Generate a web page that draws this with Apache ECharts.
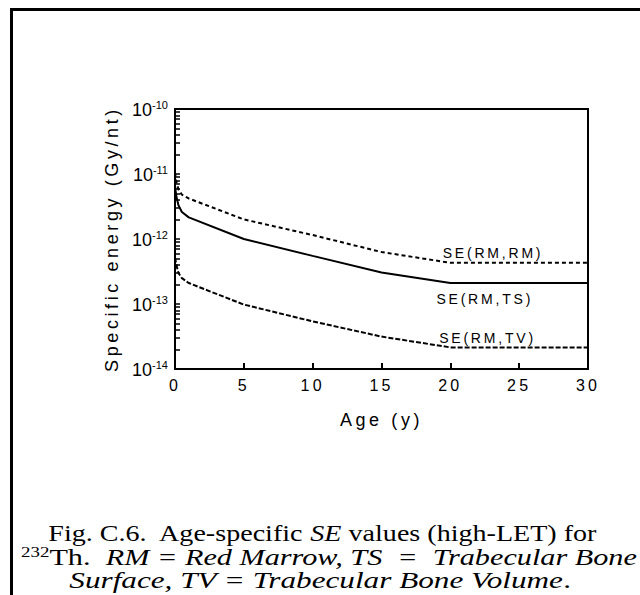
<!DOCTYPE html>
<html>
<head>
<meta charset="utf-8">
<script src="https://cdn.jsdelivr.net/npm/echarts@6/dist/echarts.min.js"></script>
<style>
html,body{margin:0;padding:0;background:#fff;}
#chart{width:640px;height:595px;}
#chart text{letter-spacing:0.2em;}
#chart text[style*="Serif"], #chart text[font-family*="Serif"],
#chart text[style*="Arial"], #chart text[font-family*="Arial"]{letter-spacing:0;}
</style>
</head>
<body>
<div id="chart"></div>
<script>
// ---- data ----
const ages   = [0, 0.1, 0.25, 0.5, 1, 5, 10, 15, 20, 30];
const seRMRM = [1.05e-11, 7.5e-12, 5.8e-12, 4.8e-12, 4.2e-12, 2.0e-12, 1.15e-12, 6.3e-13, 4.3e-13, 4.3e-13];
const seRMTS = [6.5e-12, 4.5e-12, 3.3e-12, 2.6e-12, 2.15e-12, 1.0e-12, 5.5e-13, 3.05e-13, 2.1e-13, 2.1e-13];
const seRMTV = [5.2e-13, 4.0e-13, 3.0e-13, 2.5e-13, 2.1e-13, 9.8e-14, 5.4e-14, 3.15e-14, 2.15e-14, 2.15e-14];
const seriesNames = ['SE(RM,RM)', 'SE(RM,TS)', 'SE(RM,TV)'];
const xTicks = [0, 5, 10, 15, 20, 25, 30];
const yExponents = [-14, -13, -12, -11, -10];
const captionLines = [
  '{n|Fig. C.6.  Age-specific }{i|SE}{n| values (high-LET) for}',
  '{sup|232}{n|Th.  }{i|RM = Red Marrow, TS  =  Trabecular Bone}',
  '{i|Surface, TV = Trabecular Bone Volume}{n|.}'
];

const SANS = 'Liberation Sans';
const SANS_TIGHT = 'Arial';
const SERIF = 'Liberation Serif';

const yMajor = yExponents.map(e => Math.pow(10, e));
const yMinor = [];
yExponents.forEach((e, i) => {
  if (i === yExponents.length - 1) { yMinor.push(Math.pow(10, e)); return; }
  for (let m = 1; m <= 9; m++) yMinor.push(m * Math.pow(10, e));
});

function pairs(ys) { return ages.map((a, i) => [a, ys[i]]); }

const chart = echarts.init(document.getElementById('chart'), null, {renderer: 'svg'});

function lbl(text, coord) {
  return {
    coord: coord,
    symbolSize: 0,
    label: {show: true, position: 'inside', formatter: text, color: '#000',
            fontFamily: SANS, fontSize: 14}
  };
}

const capRich = {
  n: {fontFamily: SERIF, fontSize: 24, fill: '#000', color: '#000', lineHeight: 24},
  i: {fontFamily: SERIF, fontSize: 24, fontStyle: 'italic', fill: '#000', color: '#000', lineHeight: 24},
  sup: {fontFamily: SERIF, fontSize: 15, fill: '#000', color: '#000', lineHeight: 24, verticalAlign: 'top', padding: [0, 0, 8, 0]}
};
const capLayout = [
  {x: 322, y: 533, sx: 1.17},
  {x: 329, y: 557, sx: 1.26},
  {x: 320, y: 580, sx: 1.30}
];

const option = {
  animation: false,
  backgroundColor: '#fff',
  graphic: [
    {type: 'line', shape: {x1: 10, y1: 9.5, x2: 640, y2: 9.5}, style: {stroke: '#000', lineWidth: 3}},
    {type: 'line', shape: {x1: 11.5, y1: 8, x2: 11.5, y2: 595}, style: {stroke: '#000', lineWidth: 3}}
  ].concat(captionLines.map((t, k) => ({
    type: 'text', x: capLayout[k].x, y: capLayout[k].y, scaleX: capLayout[k].sx,
    style: {text: t, rich: capRich, fill: '#000', fontFamily: SERIF, fontSize: 24,
            textAlign: 'center', align: 'center', textVerticalAlign: 'middle', verticalAlign: 'middle'}
  }))),
  grid: {left: 175, top: 109, width: 413, height: 260, show: true, borderColor: '#000', borderWidth: 2},
  xAxis: {
    type: 'value', min: 0, max: 30, interval: 5,
    name: 'Age (y)', nameLocation: 'middle', nameGap: 42,
    nameTextStyle: {fontFamily: SANS, fontSize: 18, color: '#000'},
    axisLine: {show: true, lineStyle: {color: '#000', width: 2}},
    axisTick: {show: true, inside: true, length: 6, lineStyle: {color: '#000', width: 2}},
    axisLabel: {show: true, margin: 8, fontFamily: SANS, fontSize: 16, color: '#000',
                customValues: xTicks},
    splitLine: {show: false}
  },
  yAxis: {
    type: 'log', logBase: 10, min: 1e-14, max: 1e-10,
    name: 'Specific energy (Gy/nt)', nameLocation: 'middle', nameGap: 53, nameRotate: 90,
    nameTextStyle: {fontFamily: SANS, fontSize: 18, color: '#000'},
    axisLine: {show: true, onZero: false, lineStyle: {color: '#000', width: 2}},
    axisTick: {show: true, inside: true, length: 5, lineStyle: {color: '#000', width: 1.5},
               customValues: yMinor},
    axisLabel: {
      show: true, margin: 7, customValues: yMajor,
      formatter: v => '{b|10}{s|' + Math.round(Math.log10(v)) + '}',
      rich: {
        b: {fontFamily: SANS_TIGHT, fontSize: 18, color: '#000', lineHeight: 20, verticalAlign: 'bottom'},
        s: {fontFamily: SANS_TIGHT, fontSize: 11, color: '#000', lineHeight: 20, verticalAlign: 'top'}
      }
    },
    splitLine: {show: false}
  },
  series: [
    {
      name: seriesNames[0], type: 'line', data: pairs(seRMRM), showSymbol: false, symbol: 'none',
      lineStyle: {color: '#000', width: 2, type: [4, 3]},
      markPoint: {symbol: 'circle', symbolSize: 0, data: [lbl(seriesNames[0], [23.1, 6.15e-13])]}
    },
    {
      name: seriesNames[1], type: 'line', data: pairs(seRMTS), showSymbol: false, symbol: 'none',
      lineStyle: {color: '#000', width: 2, type: 'solid'},
      markPoint: {symbol: 'circle', symbolSize: 0, data: [lbl(seriesNames[1], [22.5, 1.19e-13])]}
    },
    {
      name: seriesNames[2], type: 'line', data: pairs(seRMTV), showSymbol: false, symbol: 'none',
      lineStyle: {color: '#000', width: 2, type: [5, 2]},
      markPoint: {symbol: 'circle', symbolSize: 0, data: [lbl(seriesNames[2], [22.7, 3.0e-14])]}
    }
  ]
};
chart.setOption(option);
</script>
</body>
</html>
